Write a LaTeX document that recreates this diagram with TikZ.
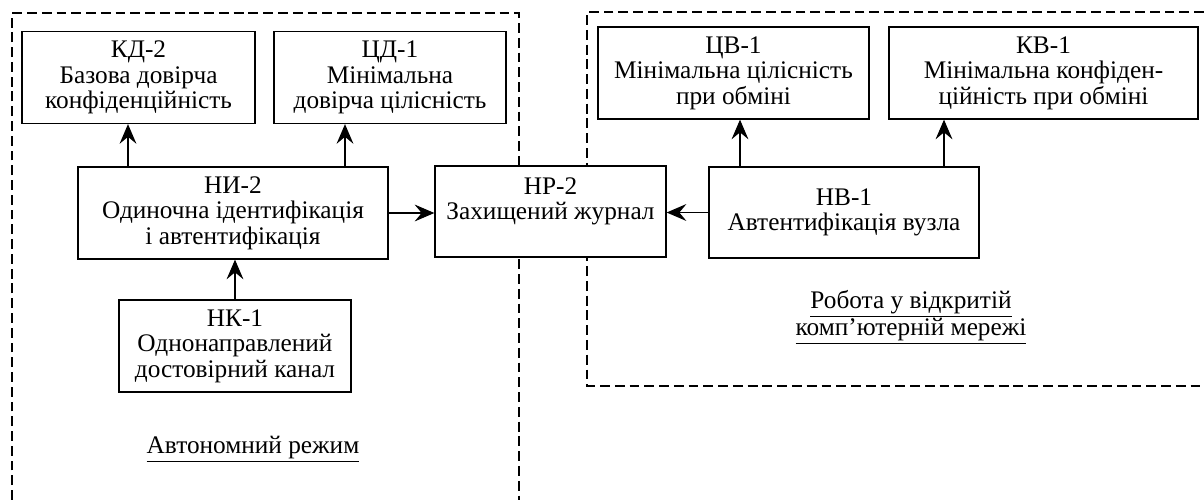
\documentclass[tikz,border=0pt]{standalone}
\usepackage{fontspec}
\setmainfont{Liberation Serif}
\usetikzlibrary{arrows.meta}
\tikzset{
  bloc/.style={draw, fill=white, line width=0.9pt, align=center, inner sep=0pt, minimum height=2.3cm},
  zone/.style={line width=1.1pt, dash pattern=on 7pt off 3.5pt},
  fleche/.style={-{Stealth[length=14pt,width=12pt,inset=5pt]}, line width=0.8pt}
}
\begin{document}
\begin{tikzpicture}[x=0.025cm, y=-0.025cm, font=\fontsize{18}{18.1}\selectfont]
\useasboundingbox (0,0) rectangle (1204,500);
%zones
\draw[zone] (12,500) -- (12,13) -- (519,13) -- (519,500);
\draw[zone] (1204,12) -- (587,12) -- (587,386) -- (1204,386);
%blocs
\node[bloc, minimum width=5.825cm] (kd) at (138.5,77.5) {КД-2\\Базова довірча\\конфіденційність};
\node[bloc, minimum width=5.8cm] (cd) at (390,77.5) {ЦД-1\\Мінімальна\\довірча цілісність};
\node[bloc, minimum width=7.75cm] (ni) at (233,213) {НИ-2\\Одиночна ідентифікація\\і автентифікація};
\node[bloc, minimum width=5.8cm] (nk) at (235,346) {НК-1\\Однонаправлений\\достовірний канал};
\node[bloc, minimum width=5.775cm, minimum height=2.275cm] (nr) at (550.5,211.5) {НР-2\\Захищений журнал\\\mbox{}};
\node[bloc, minimum width=6.775cm] (cv) at (733.5,73) {ЦВ-1\\Мінімальна цілісність\\при обміні};
\node[bloc, minimum width=7.725cm] (kv) at (1043.5,73) {КВ-1\\Мінімальна конфіден-\\ційність при обміні};
\node[bloc, minimum width=6.75cm, minimum height=2.275cm] (nv) at (844,212.5) {НВ-1\\Автентифікація вузла};
%fleches
\draw[fleche] (ni.north -| 128,0) -- (kd.south -| 128,0);
\draw[fleche] (ni.north -| 345,0) -- (cd.south -| 345,0);
\draw[fleche] (nk.north) -- (nk.north |- ni.south);
\draw[fleche] (ni.east) -- (ni.east -| nr.west);
\draw[fleche] (nv.west) -- (nv.west -| nr.east);
\draw[fleche] (nv.north -| 740,0) -- (cv.south -| 740,0);
\draw[fleche] (nv.north -| 944,0) -- (kv.south -| 944,0);
%legendes
\node (avt) at (253,449) {\underline{Автономний режим}};
\node[align=center] (rob) at (911,317) {\underline{Робота у відкритій}\\\underline{комп’ютерній мережі}};
\end{tikzpicture}
\end{document}
